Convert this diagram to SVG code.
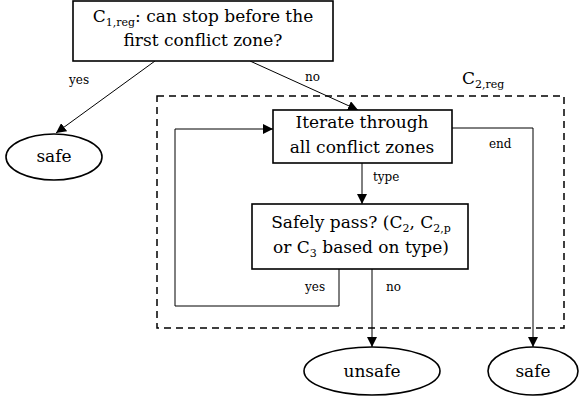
<svg xmlns="http://www.w3.org/2000/svg" width="579" height="402" viewBox="0 0 579 402">
<style>
.n{font-size:17px;text-anchor:middle;font-family:'DejaVu Serif',serif}
.l{font-size:12px;font-family:'DejaVu Serif',serif}
.box{fill:#fff;stroke:#000;stroke-width:1.6}
.e{fill:#fff;stroke:#000;stroke-width:1.6}
.c{fill:none;stroke:#000;stroke-width:1}
</style>
<defs>
<marker id="a" viewBox="0 0 10 10" refX="10" refY="5" markerWidth="10" markerHeight="10" markerUnits="userSpaceOnUse" orient="auto"><path d="M0,0L10,5L0,10z" fill="#000"/></marker>
</defs>
<rect x="157" y="96" width="407" height="232" fill="none" stroke="#000" stroke-width="1.5" stroke-dasharray="7,5"/>
<text x="462" y="84" font-size="17" font-family="DejaVu Serif, serif">C<tspan font-size="11" dy="4">2,reg</tspan></text>
<g id="connectors">
<path class="c" d="M155,61L56,133" marker-end="url(#a)"/>
<path class="c" d="M250,61L358,110" marker-end="url(#a)"/>
<path class="c" d="M362,163V204" marker-end="url(#a)"/>
<path class="c" d="M339,269V306H175V129H273" marker-end="url(#a)"/>
<path class="c" d="M372,269V347" marker-end="url(#a)"/>
<path class="c" d="M452,128H533V347" marker-end="url(#a)"/>
<text class="l" x="69" y="84">yes</text>
<text class="l" x="305" y="81">no</text>
<text class="l" x="373" y="181">type</text>
<text class="l" x="489" y="148">end</text>
<text class="l" x="305" y="291">yes</text>
<text class="l" x="386" y="291">no</text>
</g>
<g id="q1">
<rect class="box" x="73" y="1" width="260" height="60"/>
<text class="n" x="203" y="22">C<tspan font-size="11" dy="4">1,reg</tspan><tspan dy="-4">: can stop before the</tspan></text>
<text class="n" x="203" y="46">first conflict zone?</text>
</g>
<g id="safe1">
<ellipse class="e" cx="54" cy="157" rx="48" ry="23"/>
<text class="n" x="54" y="162">safe</text>
</g>
<g id="iterate">
<rect class="box" x="273" y="110" width="179" height="53"/>
<text class="n" x="362" y="128">Iterate through</text>
<text class="n" x="362" y="153">all conflict zones</text>
</g>
<g id="pass">
<rect class="box" x="252" y="204" width="216" height="65"/>
<text class="n" x="361" y="228">Safely pass? (C<tspan font-size="11" dy="4">2</tspan><tspan dy="-4">, C</tspan><tspan font-size="11" dy="4">2,p</tspan></text>
<text class="n" x="361" y="253">or C<tspan font-size="11" dy="4">3</tspan><tspan dy="-4"> based on type)</tspan></text>
</g>
<g id="unsafe">
<ellipse class="e" cx="372" cy="371" rx="68" ry="24"/>
<text class="n" x="372" y="377">unsafe</text>
</g>
<g id="safe2">
<ellipse class="e" cx="533" cy="371" rx="45" ry="24"/>
<text class="n" x="533" y="377">safe</text>
</g>
</svg>
